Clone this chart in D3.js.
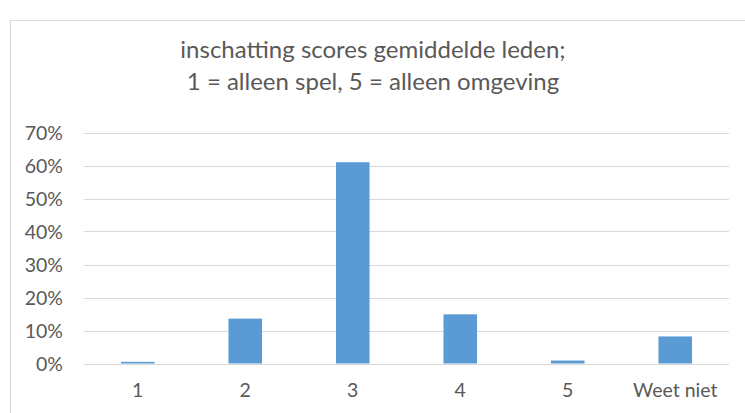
<!DOCTYPE html>
<html>
<head>
<meta charset="utf-8">
<script src="https://cdn.jsdelivr.net/npm/d3@7"></script>
<style>
  html, body { margin: 0; padding: 0; background: #fff; }
  svg text { font-family: Lato, "Open Sans", sans-serif; fill: #595959; }
</style>
</head>
<body>
<svg class="chart"></svg>
<script>
var categories = ["1", "2", "3", "4", "5", "Weet niet"];
var values = [0.005, 0.136, 0.61, 0.149, 0.009, 0.082];
var yTicks = [0, 0.1, 0.2, 0.3, 0.4, 0.5, 0.6, 0.7];
var titleLines = ["inschatting scores gemiddelde leden;", "1 = alleen spel, 5 = alleen omgeving"];

(function () {
    'use strict';
    var W = 745, H = 413;
    var margin = {top: 132.5, left: 84, right: 16, bottom: 49.5};

    var svg = d3.select(".chart").attr("width", W).attr("height", H);

    // chart border (only top and left visible in frame)
    svg.append("rect")
        .attr("x", 10.5).attr("y", 20.5)
        .attr("width", 760).attr("height", 420)
        .attr("fill", "none").attr("stroke", "#d9d9d9");

    svg.selectAll("text.title")
        .data(titleLines)
        .enter().append("text")
        .attr("class", "title")
        .attr("x", 373)
        .attr("y", function (d, i) { return 58 + i * 32; })
        .attr("text-anchor", "middle")
        .style("font-size", "24px")
        .text(function (d) { return d; });

    var x = d3.scaleBand()
        .domain(categories)
        .range([margin.left, W - margin.right])
        .paddingInner(0.688).paddingOuter(0.344);

    var y = d3.scaleLinear()
        .domain([0, 0.7])
        .range([H - margin.bottom, margin.top]);

    var g = svg.append("g");

    g.selectAll("line.grid")
        .data(yTicks)
        .enter().append("line")
        .attr("x1", margin.left).attr("x2", W - margin.right)
        .attr("y1", function (d) { return Math.round(y(d)) + 0.5; })
        .attr("y2", function (d) { return Math.round(y(d)) + 0.5; })
        .attr("stroke", "#d9d9d9").attr("stroke-width", 1);

    g.selectAll("text.ytick")
        .data(yTicks)
        .enter().append("text")
        .attr("x", 63)
        .attr("y", function (d) { return y(d) + 7; })
        .attr("text-anchor", "end")
        .style("font-size", "19.5px")
        .text(d3.format(".0%"));

    g.selectAll("rect.bar")
        .data(values)
        .enter().append("rect")
        .attr("x", function (d, i) { return x(categories[i]); })
        .attr("width", x.bandwidth())
        .attr("y", function (d) { return y(d); })
        .attr("height", function (d) { return y(0) - y(d); })
        .attr("fill", "#5b9bd5");

    g.selectAll("text.xtick")
        .data(categories)
        .enter().append("text")
        .attr("x", function (d) { return x(d) + x.bandwidth() / 2; })
        .attr("y", 397)
        .attr("text-anchor", "middle")
        .style("font-size", "19.5px")
        .text(function (d) { return d; });
})();
</script>
</body>
</html>
